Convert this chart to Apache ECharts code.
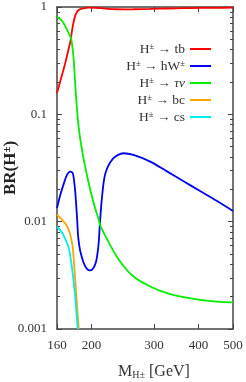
<!DOCTYPE html>
<html><head><meta charset="utf-8">
<script src="https://cdn.jsdelivr.net/npm/echarts@6/dist/echarts.min.js"></script>
<style>html,body{margin:0;padding:0;background:#fff}#c{width:246px;height:382px}</style>
</head><body><div id="c"></div>
<script>
// [mass GeV, BR]
var tb = [[160,0.158],[164,0.212],[168.8,0.30],[172,0.39],[174.4,0.475],[177.1,0.656],[180.2,0.84],[183,0.92],[186.1,0.955],[190,0.972],[196.5,0.985],[205,0.983],[212,0.975],[222,0.962],[235,0.953],[248,0.951],[262,0.953],[292,0.96],[326,0.968],[363,0.975],[404,0.98],[450,0.983],[500,0.986]];
var hW = [[160,0.0134],[163.5,0.0178],[167.1,0.0225],[170.7,0.0273],[174.4,0.0293],[177.1,0.0283],[178.3,0.0254],[180.2,0.0184],[182.3,0.0104],[183.4,0.0074],[184.8,0.0060],[186.1,0.00527],[190.3,0.0041],[194.5,0.00361],[198.6,0.00351],[203,0.00374],[206.1,0.00425],[208.3,0.00527],[209.7,0.00653],[211.1,0.0093],[214.2,0.0171],[218.9,0.0283],[230.6,0.039],[245.9,0.0434],[262.4,0.0419],[292.5,0.0363],[326,0.0294],[363,0.0238],[404,0.0193],[451,0.0156],[500,0.0126]];
var tn = [[160,0.81],[165.3,0.745],[168.8,0.66],[172.6,0.57],[175.5,0.50],[177.1,0.40],[178.3,0.32],[179.5,0.224],[181,0.146],[183,0.093],[184.5,0.0716],[186.1,0.058],[190.3,0.0376],[196.5,0.0228],[203,0.0148],[209.7,0.0104],[211.5,0.0093],[225.6,0.00608],[240.7,0.00425],[262.4,0.00308],[292.5,0.00249],[326,0.00216],[363,0.00198],[404,0.00187],[450,0.0018],[500,0.00177]];
var bc = [[160,0.0116],[165,0.0105],[168.8,0.0096],[172,0.0086],[174.4,0.0075],[177.1,0.0058],[179.5,0.0033],[182.3,0.0016],[184.2,0.001]];
var cs = [[160,0.0090],[163.5,0.0083],[167.1,0.0074],[172.6,0.0057],[176.3,0.0037],[179.5,0.0022],[182.3,0.00117],[183,0.001]];
var xTicks = [160,200,300,400,500];
var yTicks = [0.001,0.01,0.1,1];
var yTickLabels = ['0.001','0.01','0.1','1'];

var L = Math.log10;
function tr(a){return a.map(function(p){return [L(p[0]),L(p[1])];});}
var yMinor = [];
[-3,-2,-1].forEach(function(e){for(var k=2;k<=9;k++) yMinor.push(e+L(k));});
var yMajor = yTicks.map(L);
var xMajor = xTicks.map(L);
var xMin = L(160), xMax = L(500);
var FONT = "'Liberation Serif','DejaVu Serif',serif";
var AX = '#444';

var rich = {
  m:{fontFamily:FONT,fontSize:13.5,color:'#333'},
  s:{fontFamily:FONT,fontSize:8.5,color:'#333',verticalAlign:'top'},
  i:{fontFamily:FONT,fontSize:13.5,color:'#333',fontStyle:'italic'}
};
var legendText = {
  tb:'{m|H}{s|±}{m| → tb}',
  hW:'{m|H}{s|±}{m| → hW}{s|±}',
  tn:'{m|H}{s|±}{m| → }{i|τν}',
  bc:'{m|H}{s|±}{m| → bc}',
  cs:'{m|H}{s|±}{m| → cs}'
};
function xAx(pos, labels){
  return {type:'value',position:pos,min:xMin,max:xMax,gridIndex:0,
    axisLine:{show:true,onZero:false,lineStyle:{color:AX,width:1.5}},
    axisTick:{show:true,inside:true,length:5,customValues:xMajor,lineStyle:{color:AX,width:1}},
    axisLabel:{show:labels,customValues:xMajor,margin:10,fontFamily:FONT,fontSize:13,color:'#333',
      formatter:function(v){return String(Math.round(Math.pow(10,v)));}},
    splitLine:{show:false},
    name: labels ? '{m|M}{sub|H±}{m| [GeV]}' : '',
    nameLocation:'middle',nameGap:35,nameMoveOverlap:false,
    nameTextStyle:{padding:[0,0,0,18],rich:{m:{fontFamily:FONT,fontSize:16,color:'#333'},sub:{fontFamily:FONT,fontSize:10,color:'#333',verticalAlign:'bottom'}}}
  };
}
function yAx(pos, major, labels){
  return {type:'value',position:pos,min:-3,max:0,gridIndex:0,
    axisLine:{show:major,onZero:false,lineStyle:{color:AX,width:1.5}},
    axisTick:{show:true,inside:true,length:major?5:3,customValues:major?yMajor:yMinor,lineStyle:{color:AX,width:1}},
    axisLabel:{show:labels,customValues:yMajor,margin:10,fontFamily:FONT,fontSize:13,color:'#333',
      formatter:function(v){var i=yMajor.findIndex(function(t){return Math.abs(t-v)<1e-6;});return i>=0?yTickLabels[i]:'';}},
    splitLine:{show:false},
    name: labels ? '{b|BR(H}{s|±}{b|)}' : '',
    nameLocation:'middle',nameGap:38,nameRotate:90,nameMoveOverlap:false,
    nameTextStyle:{rich:{b:{fontFamily:FONT,fontSize:17,fontWeight:'bold',color:'#222'},s:{fontFamily:FONT,fontSize:11,fontWeight:'bold',color:'#222',verticalAlign:'top'}}}
  };
}
function ser(name, data, color){
  return {name:name,type:'line',xAxisIndex:0,yAxisIndex:0,data:tr(data),showSymbol:false,symbol:'none',
    smooth:0.3,lineStyle:{color:color,width:1.8},itemStyle:{color:color},clip:true,z:3};
}
var chart = echarts.init(document.getElementById('c'),null,{renderer:'canvas'});
chart.setOption({
  animation:false,
  backgroundColor:'#fff',
  grid:{left:57,right:13,top:7,bottom:53,containLabel:false,outerBoundsMode:'none'},
  xAxis:[xAx('bottom',true), xAx('top',false)],
  yAxis:[yAx('left',true,true), yAx('left',false,false), yAx('right',true,false), yAx('right',false,false)],
  legend:{orient:'vertical',right:30,top:37,align:'right',icon:'rect',itemWidth:21,itemHeight:2,itemGap:3,
    textStyle:{rich:rich},
    formatter:function(n){return legendText[n];},
    data:['tb','hW','tn','bc','cs']},
  series:[
    ser('tb',tb,'#ff0000'),
    ser('hW',hW,'#0000ee'),
    ser('tn',tn,'#00ee00'),
    ser('bc',bc,'#ffa500'),
    ser('cs',cs,'#00eeee')
  ]
});
</script></body></html>
